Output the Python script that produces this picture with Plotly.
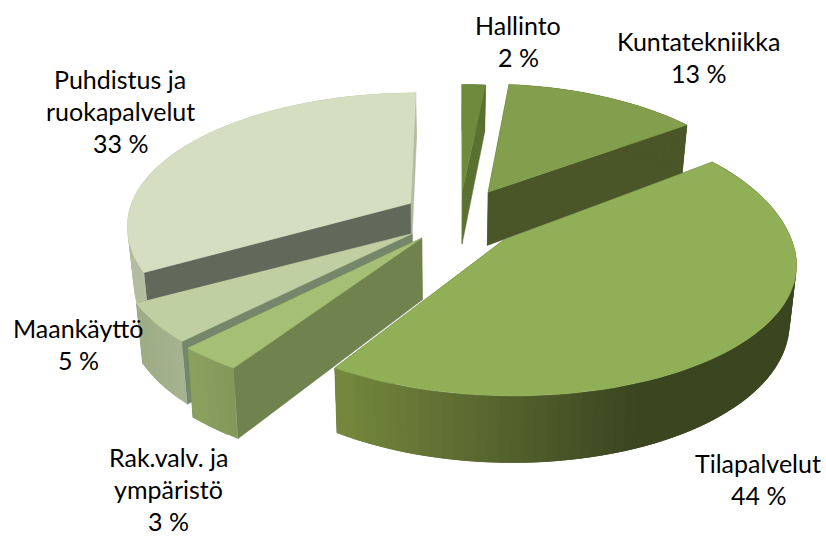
import math
import plotly.graph_objects as go

categories = ["Hallinto", "Kuntatekniikka", "Tilapalvelut", "Rak.valv. ja ympäristö", "Maankäyttö", "Puhdistus ja ruokapalvelut"]
values = [2, 13, 44, 3, 5, 33]
label_lines = [["Hallinto"], ["Kuntatekniikka"], ["Tilapalvelut"], ["Rak.valv. ja", "ympäristö"], ["Maankäyttö"], ["Puhdistus ja", "ruokapalvelut"]]

explode = [0.20, 0.27, 0.27, 0.15, 0.16, 0.17]
top_col = ["#6e8b3d", "#839e4c", "#91af57", "#a5bf75", "#bfcfa1", "#d5dec1"]
face_col = ["#5a7030", "#4a5528", "#4a5528", "#70834e", "#76866a", "#61695a"]
end_col = ["#5a7030", "#4a5528", "#4a5528", "#70834e", "#76866a", "#b3bda2"]
wall_left = ["#5a7030", "#4a5528", "#768a3e", "#8da260", "#9dac84", "#b3bd9f"]
wall_right = ["#5a7030", "#4a5528", "#3a4620", "#84985a", "#a5b28f", "#b3bd9f"]
draw_order = [5, 0, 1, 4, 3, 2]
# per-slice fine tuning of the drawing (not data)
nudge_x = [12, 4, 0, 1, 1, 4]
nudge_y = [-3, 3, -6, 1.5, 0, -5]
x_scale = [1, 1, 1, 1.05, 1.015, 1.01]
front_scale = [1, 1, 0.91, 0.945, 0.95, 1]
back_scale = [0.94, 0.97, 1, 1, 1, 0.95]
depth_scale = [1, 1, 1, 1.1, 1, 1]
trim_start = [0, -1, 0, 0, 1, 0]
trim_end = [-1.5, 0, 0, 0, 0, 0]
label_x = [518, 698, 758, 168, 78, 120]
label_y = [25, 41, 463, 457, 328, 79]

CX, CY, RX, RY, P, Q, H = 447, 220, 280, 137, 0.15, 0.02, 55
LINE = 32


def mix(a, b, t):
    t = max(0, min(1, t))
    ca = [int(a[i:i + 2], 16) for i in (1, 3, 5)]
    cb = [int(b[i:i + 2], 16) for i in (1, 3, 5)]
    return "rgb(%d,%d,%d)" % tuple(round(u + (v - u) * t) for u, v in zip(ca, cb))


fig = go.Figure()


def poly(pts, color, stroke=0.5):
    xs = [p[0] for p in pts] + [pts[0][0]]
    ys = [p[1] for p in pts] + [pts[0][1]]
    fig.add_trace(go.Scatter(x=xs, y=ys, mode="lines", fill="toself", fillcolor=color,
                             line=dict(color=color, width=stroke), hoverinfo="skip", showlegend=False))


total = sum(values)
angles = [0]
for v in values:
    angles.append(angles[-1] + v / total * 360)

for i in draw_order:
    a0 = math.radians(angles[i])
    a1 = math.radians(angles[i + 1])
    mid = (a0 + a1) / 2
    ox, oy = explode[i] * math.sin(mid), -explode[i] * math.cos(mid)
    a0 += math.radians(trim_start[i])
    a1 += math.radians(trim_end[i])

    def raw(X, Y):
        s = 1 / (1 - P * Y)
        return CX + RX * X * s, CY + RY * Y * s, s

    ax, ay, _ = raw(ox, oy)

    def proj(X, Y, bottom=False):
        x, y, s = raw(X, Y)
        dx, dy = x - ax, y - ay
        dx *= x_scale[i]
        dy *= front_scale[i] if dy > 0 else back_scale[i]
        x, y = ax + dx + nudge_x[i], ay + dy + nudge_y[i]
        if bottom:
            x = CX + (x - CX) * (1 - Q)
            y += H * depth_scale[i] * s
        return x, y

    n = max(4, int(math.degrees(a1 - a0) / 2))
    arc = [(ox + math.sin(a0 + (a1 - a0) * k / n), oy - math.cos(a0 + (a1 - a0) * k / n)) for k in range(n + 1)]
    apex = (ox, oy)
    for pt, col in ((arc[-1], end_col[i]), (arc[0], face_col[i])):
        poly([proj(*apex), proj(*pt), proj(*pt, True), proj(*apex, True)], col)
    xs_screen = [proj(*p)[0] for p in arc]
    lo, hi = min(xs_screen), max(xs_screen)
    if i == 2:
        hi = 640
    # outer wall: each band overlaps the next one, later bands paint over it, so no seams
    for k in range(n):
        t = (proj(*arc[k])[0] - lo) / (hi - lo)
        col = mix(wall_left[i], wall_right[i], t)
        rest = arc[k:min(k + 3, n + 1)]
        poly([proj(*r) for r in rest] + [proj(*r, True) for r in reversed(rest)], col, 0)
    poly([proj(*apex)] + [proj(*p) for p in arc], top_col[i])

for i, lines in enumerate(label_lines):
    for j, t in enumerate(lines + [f"{values[i]} %"]):
        fig.add_annotation(x=label_x[i], y=label_y[i] + j * LINE, text=t, showarrow=False,
                           xanchor="center", yanchor="middle")

fig.update_layout(width=826, height=536, margin=dict(l=0, r=0, t=0, b=0), autosize=False,
                  paper_bgcolor="white", plot_bgcolor="white", showlegend=False,
                  font=dict(family="Lato, Carlito, Calibri, sans-serif", size=25, color="#000000"),
                  xaxis=dict(range=[0, 826], visible=False, fixedrange=True),
                  yaxis=dict(range=[536, 0], visible=False, fixedrange=True))
fig.write_html("out.html", config={"displayModeBar": False},
               post_script="document.body.style.margin='0';document.body.style.overflow='hidden';")
